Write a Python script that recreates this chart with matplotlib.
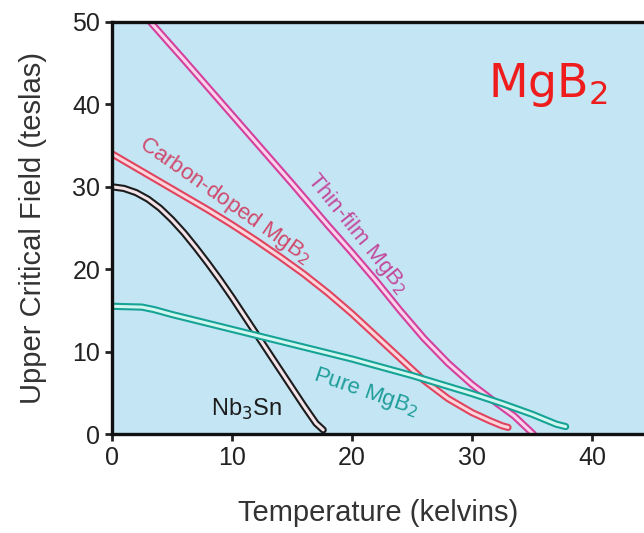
#!/usr/bin/env python3
"""Upper critical field vs temperature for MgB2 variants and Nb3Sn."""

import matplotlib

matplotlib.use("Agg")
import matplotlib.pyplot as plt

plt.rcParams["font.family"] = ["DejaVu Sans Condensed", "Liberation Sans", "DejaVu Sans"]

# data (kelvins, teslas)
thin_film_t = [3.2, 6, 9, 12, 15, 18, 20, 22, 24, 26, 28, 30, 32, 33.5, 35.1]
thin_film_b = [50.0, 45.4, 40.4, 35.4, 30.4, 25.3, 22.0, 18.6, 15.0, 11.6, 8.6, 6.0, 3.8, 2.2, 0.0]

carbon_t = [0, 2, 4, 6, 8, 10, 12, 14, 16, 18, 20, 22, 24, 26, 28, 30, 31.5, 32.5, 33]
carbon_b = [34.0, 32.3, 30.6, 28.9, 27.2, 25.4, 23.5, 21.5, 19.4, 17.1, 14.6, 11.9,
            9.2, 6.5, 4.3, 2.6, 1.6, 1.0, 0.8]

nb3sn_t = [0, 1, 2, 3, 4, 5, 6, 7, 8, 9, 10, 11, 12, 13, 14, 15, 16, 17, 17.6]
nb3sn_b = [30.0, 29.8, 29.3, 28.5, 27.4, 26.0, 24.4, 22.6, 20.7, 18.7, 16.6, 14.4,
           12.2, 10.0, 7.8, 5.6, 3.4, 1.3, 0.5]

pure_t = [0, 2.5, 3.5, 5, 7.5, 10, 12.5, 15, 17.5, 20, 22.5, 25, 27.5, 30, 32.5, 35, 37, 37.8]
pure_b = [15.5, 15.4, 15.1, 14.5, 13.6, 12.7, 11.8, 10.9, 10.0, 9.1, 8.1, 7.1, 6.0,
          4.9, 3.7, 2.4, 1.2, 0.9]

x_ticks = [0, 10, 20, 30, 40]
y_ticks = [0, 10, 20, 30, 40, 50]

fig = plt.figure(figsize=(6.44, 5.33), dpi=100)
ax = fig.add_axes([112 / 644, 1 - 434 / 533, (644 - 112) / 644, 412 / 533])
ax.set_facecolor("#c4e5f4")

curves = [
    (thin_film_t, thin_film_b, "#d4409e", "#fbd3ea"),
    (carbon_t, carbon_b, "#e0445e", "#fcd6dc"),
    (nb3sn_t, nb3sn_b, "#1c1c1c", "#f4e4ea"),
    (pure_t, pure_b, "#16a396", "#d2f7f1"),
]
for t, b, outer, inner in curves:
    ax.plot(t, b, color=outer, lw=5.2, solid_capstyle="round", solid_joinstyle="round")
    ax.plot(t, b, color=inner, lw=2.2, solid_capstyle="round", solid_joinstyle="round")

ax.text(20.4, 24.3, "Thin-film MgB$_2$", color="#c24a9c", fontsize=16,
        rotation=-51, ha="center", va="center", rotation_mode="anchor")
ax.text(9.4, 28.4, "Carbon-doped MgB$_2$", color="#cf4a6c", fontsize=16,
        rotation=-35, ha="center", va="center", rotation_mode="anchor")
ax.text(21.1, 5.0, "Pure MgB$_2$", color="#1e9e9a", fontsize=16,
        rotation=-19, ha="center", va="center", rotation_mode="anchor")
ax.text(11.25, 3.0, "Nb$_3$Sn", color="#1c1c1c", fontsize=17,
        ha="center", va="center")

ax.text(36.3, 42.3, "MgB$_2$", color="#ee1c1c", fontsize=33,
        family="DejaVu Sans", ha="center", va="center")

ax.set_xlim(0, 44.33)
ax.set_ylim(0, 50)
ax.set_xticks(x_ticks)
ax.set_yticks(y_ticks)
ax.tick_params(direction="out", length=5, width=2, labelsize=18, colors="#222222")
ax.spines["right"].set_visible(False)
for s in ["left", "bottom", "top"]:
    ax.spines[s].set_linewidth(2.4)
    ax.spines[s].set_color("#111111")

ax.set_xlabel("Temperature (kelvins)", fontsize=21, color="#333333", labelpad=21)
ax.set_ylabel("Upper Critical Field (teslas)", fontsize=21, color="#333333", labelpad=18)

fig.savefig("out.png", dpi=100)
